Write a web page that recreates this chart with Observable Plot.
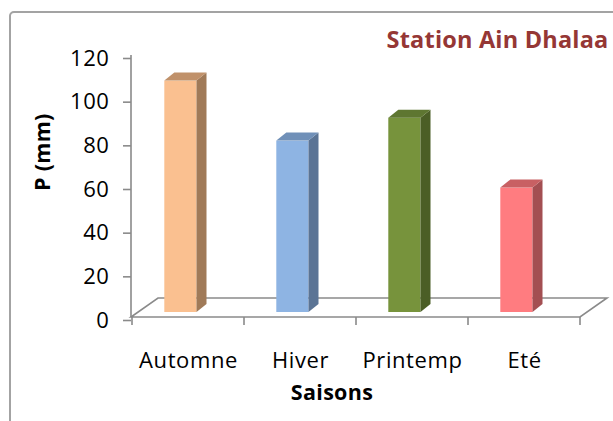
<!DOCTYPE html>
<html>
<head>
<meta charset="utf-8">
<script src="https://cdn.jsdelivr.net/npm/d3@7"></script>
<script src="https://cdn.jsdelivr.net/npm/@observablehq/plot@0.6"></script>
<style>
  html, body { margin: 0; padding: 0; background: #fff; }
  #wrap { position: relative; width: 613px; height: 421px; overflow: hidden; background: #fff; }
  #frame { position: absolute; left: 9px; top: 11px; width: 700px; height: 500px;
           border: 2px solid #a3a3a3; border-radius: 5px; box-sizing: border-box; }
  #chart { position: absolute; left: 0; top: 0; }
  #chart svg text { letter-spacing: 0.6px; }
  #chart svg g[font-weight="bold"] text { letter-spacing: 0.3px; }
  #chart svg g[fill="#953735"] text { letter-spacing: 0.2px; }
</style>
</head>
<body>
<div id="wrap">
  <div id="frame"></div>
  <div id="chart"></div>
</div>
<script>
// ---- data ----
const seasons = ["Automne", "Hiver", "Printemp", "Eté"];
const precip = [106, 78.5, 89, 57];
const frontColors = ["#FAC090", "#8EB4E3", "#77933C", "#FF7C80"];
const topColors = ["#C0916A", "#7090B8", "#5E7631", "#C86063"];
const sideColors = ["#A07A58", "#5B7495", "#4B5E26", "#A34F52"];
const yTicks = [0, 20, 40, 60, 80, 100, 120];
const titleText = "Station Ain Dhalaa";
const xLabel = "Saisons";
const yLabel = "P (mm)";

const data = seasons.map((s, i) => ({
  season: s, value: precip[i], front: frontColors[i], top: topColors[i], side: sideColors[i]
}));

// ---- 3D look (style only) ----
const INSET_L = 32.3, INSET_R = 47.5; // bar front face inside its band
const DX = 10, DY = 8;                // bar depth
const LIFT = 5;                       // bars sit slightly inside the floor
const FDX = 27, FDY = 19;             // floor depth
const GRAY = "#8a8a8a";

function poly(g, pts, fill) {
  g.append("path").attr("d", "M" + pts.map(p => p.join(",")).join("L") + "Z").attr("fill", fill);
}

// floor (parallelogram outline) + y axis line + x band-boundary ticks
function floorMark(index, scales) {
  const x = scales.x, y = scales.y;
  const [r0, r1] = x.range();
  const y0 = y(0);
  const g = d3.create("svg:g").attr("fill", "none").attr("stroke", GRAY).attr("stroke-width", 1.6);
  g.append("path").attr("d",
    `M${r0},${y0}L${r1},${y0}L${r1 + FDX},${y0 - FDY}L${r0 + FDX},${y0 - FDY}Z`);
  g.append("line").attr("x1", r0).attr("x2", r0).attr("y1", y(yTicks[0])).attr("y2", y(yTicks[yTicks.length - 1]));
  const bw = x.bandwidth();
  const bounds = seasons.map(s => x(s)).concat([x(seasons[seasons.length - 1]) + bw]);
  bounds.forEach(b => g.append("line").attr("x1", b).attr("x2", b).attr("y1", y0).attr("y2", y0 + 8));
  return g.node();
}

// side and top faces of each bar
function facesMark(index, scales) {
  const x = scales.x, y = scales.y;
  const bw = x.bandwidth();
  const g = d3.create("svg:g");
  data.forEach(d => {
    const x0 = x(d.season) + INSET_L, x1 = x(d.season) + bw - INSET_R;
    const yb = y(0) - LIFT, yt = y(d.value) - LIFT;
    poly(g, [[x1, yt], [x1 + DX, yt - DY], [x1 + DX, yb - DY], [x1, yb]], d.side);
    poly(g, [[x0, yt], [x0 + DX, yt - DY], [x1 + DX, yt - DY], [x1, yt]], d.top);
  });
  return g.node();
}

const chart = Plot.plot({
  width: 613,
  height: 421,
  marginLeft: 131,
  marginRight: 33,
  marginTop: 55,
  marginBottom: 104,
  style: { fontFamily: "'Open Sans', sans-serif", background: "transparent", color: "#000", overflow: "visible" },
  x: { type: "band", domain: seasons, padding: 0, axis: null },
  y: { domain: [0, 120], axis: null },
  color: { type: "identity" },
  marks: [
    floorMark,
    Plot.barY(data, {
      x: "season", y1: 0, y2: "value", fill: "front",
      insetLeft: INSET_L, insetRight: INSET_R, dy: -LIFT
    }),
    facesMark,
    Plot.axisY(yTicks, {
      anchor: "left", tickSize: 8, tickPadding: 14, fontSize: 22, stroke: GRAY, strokeWidth: 1.6,
      dy: 3, label: null, tickFormat: d => String(d)
    }),
    Plot.axisX({
      anchor: "bottom", tickSize: 0, tickPadding: 34.7, fontSize: 22, label: null
    }),
    Plot.text([xLabel], {
      frameAnchor: "bottom", lineAnchor: "middle", text: d => d, dx: -24, dy: 76,
      fontSize: 21.5, fontWeight: "bold", fill: "#000"
    }),
    Plot.text([yLabel], {
      frameAnchor: "left", lineAnchor: "middle", text: d => d, rotate: -90, dx: -88, dy: 4.5,
      fontSize: 21.5, fontWeight: "bold", fill: "#000"
    }),
    Plot.text([titleText], {
      frameAnchor: "top-right", lineAnchor: "middle", text: d => d, textAnchor: "end", dx: 28, dy: -15.2,
      fontSize: 23.5, fontWeight: "bold", fill: "#953735"
    })
  ]
});

document.getElementById("chart").appendChild(chart);
</script>
</body>
</html>
